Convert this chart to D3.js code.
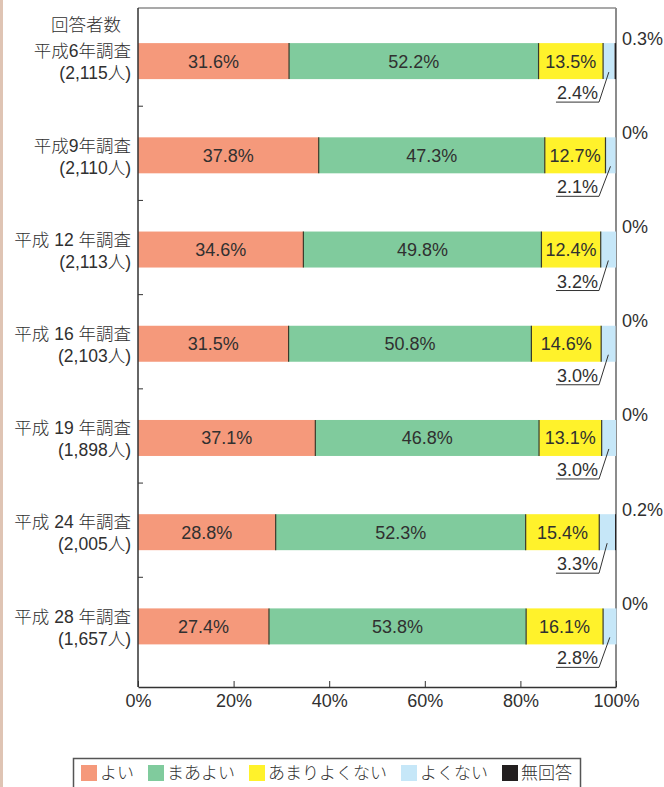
<!DOCTYPE html>
<html>
<head>
<meta charset="utf-8">
<script src="https://cdn.jsdelivr.net/npm/d3@7"></script>
<style>
  body { margin: 0; background: #fff; }
  svg { display: block; font-family: "Liberation Sans", "Noto Sans CJK JP", sans-serif; font-weight: 300; }
  text { fill: #303030; }
</style>
</head>
<body>
<div id="chart"></div>
<script>
// survey rounds and respondent counts
var surveys = ['平成6年調査', '平成9年調査', '平成 12 年調査', '平成 16 年調査', '平成 19 年調査', '平成 24 年調査', '平成 28 年調査'];
var respondents = ['(2,115人)', '(2,110人)', '(2,113人)', '(2,103人)', '(1,898人)', '(2,005人)', '(1,657人)'];

// answer shares (%)
var good     = [31.6, 37.8, 34.6, 31.5, 37.1, 28.8, 27.4];
var fair     = [52.2, 47.3, 49.8, 50.8, 46.8, 52.3, 53.8];
var notVery  = [13.5, 12.7, 12.4, 14.6, 13.1, 15.4, 16.1];
var bad      = [2.4, 2.1, 3.2, 3.0, 3.0, 3.3, 2.8];
var noAnswer = [0.3, 0, 0, 0, 0, 0.2, 0];

var seriesNames = ['よい', 'まあよい', 'あまりよくない', 'よくない', '無回答'];
var seriesColors = ['#f5997b', '#80cb9d', '#fff22b', '#c6e7f8', '#231f20'];
var xTicks = [0, 20, 40, 60, 80, 100];

var width = 664, height = 787;
var margin = {left: 138, right: 616, top: 8, bottom: 687};

var svg = d3.select('#chart').append('svg')
    .attr('width', width)
    .attr('height', height);

// beige page edge on the left
svg.append('rect')
    .attr('x', 0).attr('y', 0)
    .attr('width', 3).attr('height', height)
    .attr('fill', '#dfc4b4');

var x = d3.scaleLinear().domain([0, 100]).range([margin.left, margin.right]);
var y = d3.scaleBand().domain(surveys)
    .range([14, 673.5])
    .paddingInner(0.618)
    .paddingOuter(0.309);

var rows = surveys.map(function(s, i) {
    return {survey: s, n: respondents[i], values: [good[i], fair[i], notVery[i], bad[i], noAnswer[i]]};
});

var stack = d3.stack()
    .keys([0, 1, 2, 3, 4])
    .value(function(d, k) { return d.values[k]; });
var layers = stack(rows);

// frame: top and right in grey
svg.append('line')
    .attr('x1', x(0)).attr('x2', x(100))
    .attr('y1', margin.top).attr('y2', margin.top)
    .attr('stroke', '#8c8c8c').attr('stroke-width', 1.5);
svg.append('line')
    .attr('x1', x(100)).attr('x2', x(100))
    .attr('y1', margin.top).attr('y2', margin.bottom)
    .attr('stroke', '#8c8c8c').attr('stroke-width', 2);

// bars
var layerG = svg.selectAll('g.layer')
    .data(layers)
    .enter()
    .append('g')
    .attr('class', 'layer')
    .attr('fill', function(d, i) { return seriesColors[i]; });

layerG.selectAll('rect')
    .data(function(d) { return d; })
    .enter()
    .append('rect')
    .attr('x', function(d) { return x(d[0]); })
    .attr('y', function(d) { return y(d.data.survey); })
    .attr('width', function(d) { return Math.max(0, x(d[1]) - x(d[0])); })
    .attr('height', y.bandwidth());

// dark dividers between segments
layers.slice(1, 4).forEach(function(layer) {
    svg.append('g').selectAll('line')
        .data(layer)
        .enter()
        .append('line')
        .attr('x1', function(d) { return x(d[0]); })
        .attr('x2', function(d) { return x(d[0]); })
        .attr('y1', function(d) { return y(d.data.survey); })
        .attr('y2', function(d) { return y(d.data.survey) + y.bandwidth(); })
        .attr('stroke', '#3a3a2a')
        .attr('stroke-width', 1.2);
});

function pct(v) { return v === 0 ? '0%' : v.toFixed(1) + '%'; }

// labels inside the first three segments
layers.slice(0, 3).forEach(function(layer) {
    svg.append('g').selectAll('text')
        .data(layer)
        .enter()
        .append('text')
        .attr('x', function(d) { return (x(d[0]) + x(d[1])) / 2; })
        .attr('y', function(d) { return y(d.data.survey) + y.bandwidth() / 2; })
        .attr('dy', '0.36em')
        .attr('text-anchor', 'middle')
        .style('font-size', '18px')
        .text(function(d) { return pct(+(d[1] - d[0]).toFixed(1)); });
});

// よくない: callout labels below the bar
var badG = svg.append('g').selectAll('g')
    .data(layers[3])
    .enter()
    .append('g');

badG.each(function(d, i) {
    var g = d3.select(this);
    var bottom = y(d.data.survey) + y.bandwidth();
    var lineY = bottom + 23;
    var endX = 599;
    var t = g.append('text')
        .attr('x', endX - 1)
        .attr('y', lineY - 3)
        .attr('text-anchor', 'end')
        .style('font-size', '18px')
        .text(pct(bad[i]));
    var w = t.node().getComputedTextLength();
    g.append('polyline')
        .attr('points', [[endX - w - 2, lineY], [endX, lineY], [(x(d[0]) + x(d[1])) / 2, bottom - 7]].join(' '))
        .attr('fill', 'none')
        .attr('stroke', '#333')
        .attr('stroke-width', 1);
});

// 無回答 labels to the right of the frame
svg.append('g').selectAll('text')
    .data(layers[4])
    .enter()
    .append('text')
    .attr('x', x(100) + 6)
    .attr('y', function(d) { return y(d.data.survey) - 5; })
    .attr('dy', '0.36em')
    .style('font-size', '18px')
    .text(function(d, i) { return pct(noAnswer[i]); });

// category ticks between rows on the left axis
svg.append('g').selectAll('line')
    .data(surveys.slice(0, -1))
    .enter()
    .append('line')
    .attr('x1', x(0)).attr('x2', x(0) + 5)
    .attr('y1', function(s) { return y(s) + y.bandwidth() + (y.step() - y.bandwidth()) / 2 - 2; })
    .attr('y2', function(s) { return y(s) + y.bandwidth() + (y.step() - y.bandwidth()) / 2 - 2; })
    .attr('stroke', '#333');

// left axis line
svg.append('line')
    .attr('x1', x(0)).attr('x2', x(0))
    .attr('y1', margin.top).attr('y2', margin.bottom)
    .attr('stroke', '#333').attr('stroke-width', 1.5);

// bottom axis
var xAxis = d3.axisBottom(x)
    .tickValues(xTicks)
    .tickSizeInner(-6)
    .tickSizeOuter(0)
    .tickPadding(7)
    .tickFormat(function(d) { return d + '%'; });

var axisG = svg.append('g')
    .attr('transform', 'translate(0,' + margin.bottom + ')')
    .call(xAxis);
axisG.select('.domain').attr('stroke', '#333').attr('stroke-width', 1.5);
axisG.selectAll('.tick line').attr('stroke', '#333');
axisG.selectAll('.tick text')
    .style('font-size', '18px')
    .style('font-family', '"Liberation Sans", "Noto Sans CJK JP", sans-serif')
    .attr('fill', '#303030');

// category labels
svg.append('text')
    .attr('x', 121)
    .attr('y', 25)
    .attr('dy', '0.36em')
    .attr('text-anchor', 'end')
    .style('font-size', '17.5px')
    .text('回答者数');

var catG = svg.append('g').selectAll('g')
    .data(rows)
    .enter()
    .append('g');
catG.append('text')
    .attr('x', 131)
    .attr('y', function(d) { return y(d.survey) + y.bandwidth() / 2 - 10; })
    .attr('dy', '0.36em')
    .attr('text-anchor', 'end')
    .style('font-size', '17.5px')
    .text(function(d) { return d.survey; });
catG.append('text')
    .attr('x', 131)
    .attr('y', function(d) { return y(d.survey) + y.bandwidth() / 2 + 12; })
    .attr('dy', '0.36em')
    .attr('text-anchor', 'end')
    .style('font-size', '17.5px')
    .text(function(d) { return d.n; });

// legend
var legend = svg.append('g');
legend.append('rect')
    .attr('x', 73.5).attr('y', 758.5)
    .attr('width', 507).attr('height', 40)
    .attr('fill', '#fff')
    .attr('stroke', '#555')
    .attr('stroke-width', 1.5);

var lx = 81;
seriesNames.forEach(function(name, i) {
    legend.append('rect')
        .attr('x', lx).attr('y', 765)
        .attr('width', 16).attr('height', 16)
        .attr('fill', seriesColors[i]);
    var t = legend.append('text')
        .attr('x', lx + 19)
        .attr('y', 773)
        .attr('dy', '0.36em')
        .style('font-size', '17px')
        .text(name);
    lx += 19 + t.node().getComputedTextLength() + 14;
});
</script>
</body>
</html>
